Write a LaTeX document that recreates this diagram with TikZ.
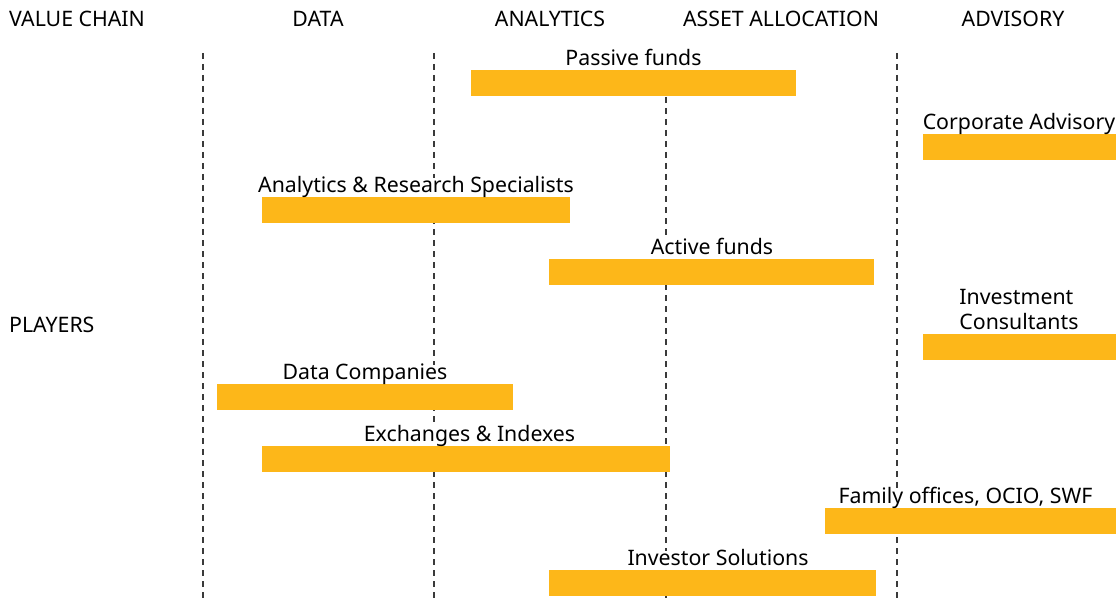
\documentclass[tikz,border=0pt]{standalone}
\usepackage{fontspec}
\setmainfont{Noto Sans}
\definecolor{barcol}{HTML}{FDB719}
\definecolor{linecol}{HTML}{3A3A3A}
\begin{document}
\begin{tikzpicture}[x=1pt,y=-1pt,
  barbox/.style={fill=barcol, draw=none, inner sep=0pt, minimum height=26pt, anchor=north west},
  lbl/.style={fill=white, inner xsep=1pt, inner ysep=0pt, text height=15pt, text depth=4pt, anchor=south, font=\fontsize{21.3}{25.5}\selectfont},
  hdr/.style={font=\fontsize{21.3}{25}\selectfont, inner sep=0pt, anchor=base},
  divider/.style={draw=linecol, line width=1.1pt, dash pattern=on 6pt off 5pt}]
\useasboundingbox (0,0) rectangle (1117,599);
% dividers
\foreach \i/\x in {1/203,2/434,3/666,4/897}{
  \coordinate (d\i t) at (\x,53);
  \coordinate (d\i b) at (\x,599);
  \draw[divider] (d\i t) -- (d\i b);
}
% headers
\node[hdr, anchor=base west] (hvc) at (9,27) {VALUE CHAIN};
\node[hdr] (hdata) at (318,27) {DATA};
\node[hdr] (hana) at (550,27) {ANALYTICS};
\node[hdr] (hasset) at (781,27) {ASSET ALLOCATION};
\node[hdr] (hadv) at (1013,27) {ADVISORY};
\node[hdr, anchor=base west] (players) at (9,332) {PLAYERS};
% bars
\node[barbox, minimum width=325pt] (passive) at (471,70) {};
\node[barbox, minimum width=193pt] (corp) at (923,134) {};
\node[barbox, minimum width=308pt] (ars) at (262,197) {};
\node[barbox, minimum width=325pt] (active) at (549,259) {};
\node[barbox, minimum width=193pt] (invc) at (923,334) {};
\node[barbox, minimum width=296pt] (datac) at (217,384) {};
\node[barbox, minimum width=408pt] (exch) at (262,446) {};
\node[barbox, minimum width=291pt] (family) at (825,508) {};
\node[barbox, minimum width=327pt] (invs) at (549,570) {};
% labels
\node[lbl] (passiveL) at (633.5,70) {Passive funds};
\node[lbl] (corpL) at (1019,134) {Corporate Advisory};
\node[lbl] (arsL) at (416,197) {Analytics \& Research Specialists};
\node[lbl] (activeL) at (712,259) {Active funds};
\node[lbl, align=left, text height=40.5pt] (invcL) at (1019,334) {Investment\\Consultants};
\node[lbl] (datacL) at (365,384) {Data Companies};
\node[lbl] (exchL) at (469.5,446) {Exchanges \& Indexes};
\node[lbl] (familyL) at (965.5,508) {Family offices, OCIO, SWF};
\node[lbl] (invsL) at (718,570) {Investor Solutions};
\end{tikzpicture}
\end{document}
